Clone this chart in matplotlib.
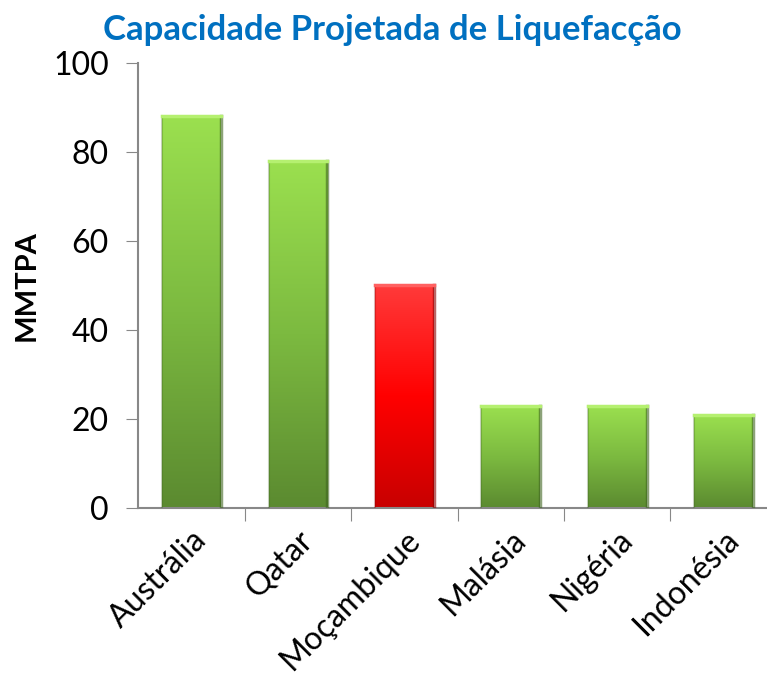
import numpy as np
import matplotlib.pyplot as plt
from matplotlib.colors import LinearSegmentedColormap

paises = ['Austrália', 'Qatar', 'Moçambique', 'Malásia', 'Nigéria', 'Indonésia']
capacidade = [88, 78, 50, 23, 23, 21]
destaque = [False, False, True, False, False, False]

plt.rcParams['font.family'] = ['Lato', 'DejaVu Sans']

verde = LinearSegmentedColormap.from_list('verde', ['#5b8a30', '#7cba40', '#9be04f'])
vermelho = LinearSegmentedColormap.from_list('vermelho', ['#c80000', '#ff0000', '#ff3a3a'])

fig = plt.figure(figsize=(7.67, 6.83), dpi=100)
ax = fig.add_axes([0.18, 0.256, 0.833, 0.652])

x = np.arange(len(paises))
bars = ax.bar(x, capacidade, width=0.55, color='none', zorder=2)

grad = np.linspace(0, 1, 256).reshape(-1, 1)
for b, red in zip(bars, destaque):
    x0, y0 = b.get_x(), b.get_y()
    w, h = b.get_width(), b.get_height()
    im = ax.imshow(grad, extent=[x0, x0 + w, y0, y0 + h], origin='lower',
                   aspect='auto', cmap=vermelho if red else verde, zorder=2)
    im.set_clip_path(b)
    edge = '#8a0000' if red else '#3f6520'
    ax.plot([x0 + w, x0 + w], [y0, y0 + h], color=edge, lw=2.5, alpha=0.6, zorder=3)
    ax.plot([x0, x0], [y0, y0 + h], color=edge, lw=1.5, alpha=0.3, zorder=3)
    top = '#ff6060' if red else '#b5f070'
    ax.plot([x0, x0 + w], [y0 + h, y0 + h], color=top, lw=2.5, zorder=3)

ax.set_xlim(-0.5, len(paises) - 0.5)
ax.set_ylim(0, 100)
ax.set_yticks([0, 20, 40, 60, 80, 100])

ax.set_xticks(np.arange(len(paises)) + 0.5)
ax.set_xticklabels([])
ax.set_xticks(x, minor=True)
ax.set_xticklabels(paises, minor=True, rotation=45, ha='right', va='top',
                   rotation_mode='anchor', fontsize=23)
ax.tick_params(axis='x', which='minor', length=0, pad=12)
ax.tick_params(axis='x', which='major', length=9, color='#888888', direction='out')
ax.tick_params(axis='y', length=9, color='#888888', labelsize=23, pad=12)

for s in ['top', 'right']:
    ax.spines[s].set_visible(False)
for s in ['left', 'bottom']:
    ax.spines[s].set_color('#888888')
    ax.spines[s].set_linewidth(1.5)

ax.set_ylabel('MMTPA', fontsize=21, fontweight='bold', labelpad=10)
fig.text(0.511, 0.956, 'Capacidade Projetada de Liquefacção', ha='center', va='center',
         fontsize=25, fontweight='bold', color='#0070c0')

fig.savefig('out.png', dpi=100)
